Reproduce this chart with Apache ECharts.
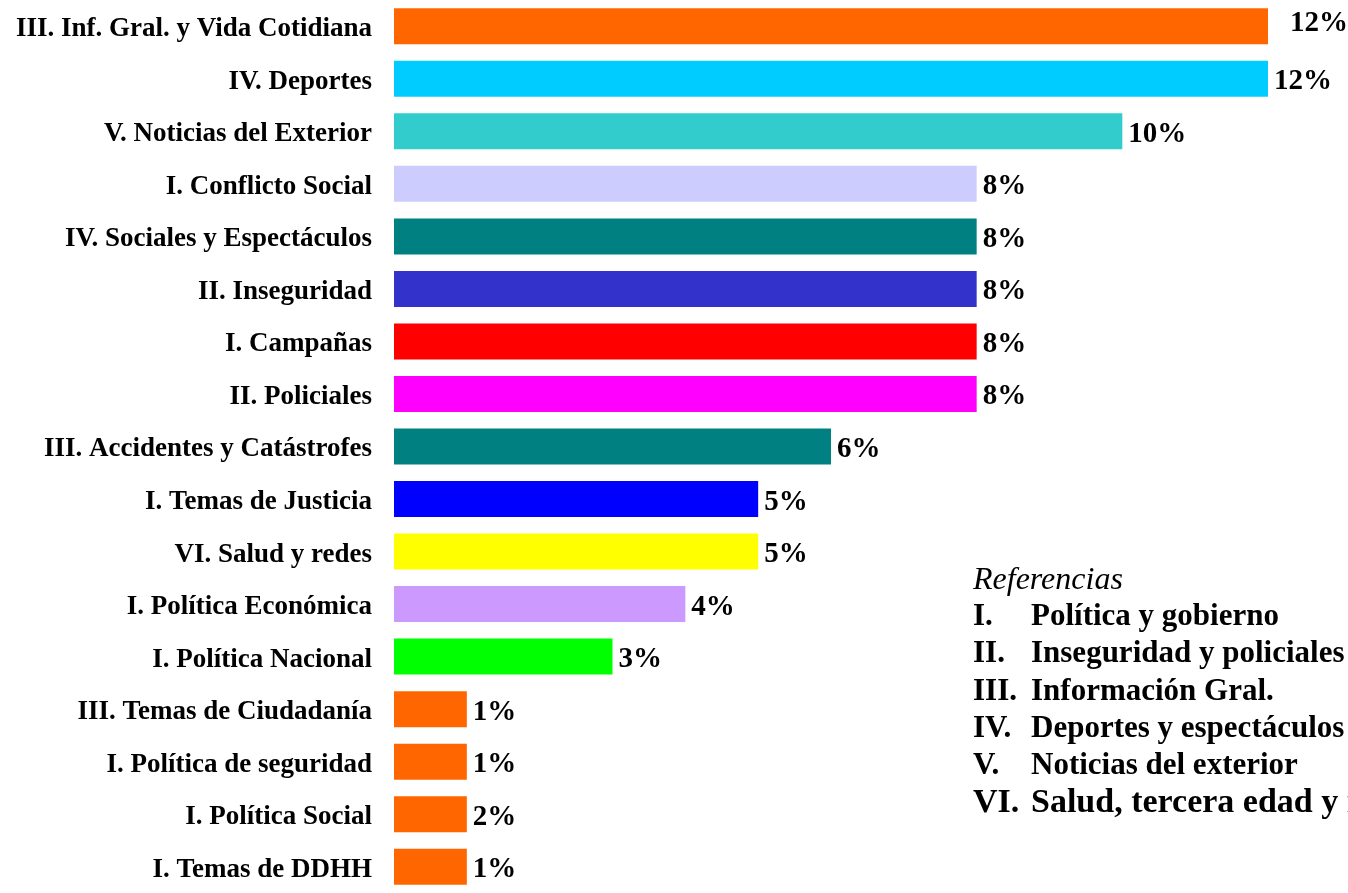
<!DOCTYPE html>
<html>
<head>
<meta charset="utf-8">
<script src="https://cdn.jsdelivr.net/npm/echarts@6/dist/echarts.min.js"></script>
<style>
  html, body { margin: 0; padding: 0; background: #ffffff; }
  #chart { width: 1348px; height: 893px; }
</style>
</head>
<body>
<div id="chart"></div>
<script>
// categorías (de arriba hacia abajo)
const categories = [
  'III. Inf. Gral. y Vida Cotidiana',
  'IV. Deportes',
  'V. Noticias del Exterior',
  'I. Conflicto Social',
  'IV. Sociales y Espectáculos',
  'II. Inseguridad',
  'I. Campañas',
  'II. Policiales',
  'III. Accidentes y Catástrofes',
  'I. Temas de Justicia',
  'VI. Salud y redes',
  'I. Política Económica',
  'I. Política Nacional',
  'III. Temas de Ciudadanía',
  'I. Política de seguridad',
  'I. Política Social',
  'I. Temas de DDHH'
]
// porcentajes (largo de barra)
const values = [12, 12, 10, 8, 8, 8, 8, 8, 6, 5, 5, 4, 3, 1, 1, 1, 1]
// etiquetas tal como aparecen
const valueLabels = ['12%', '12%', '10%', '8%', '8%', '8%', '8%', '8%', '6%', '5%', '5%', '4%', '3%', '1%', '1%', '2%', '1%']
const barColors = [
  '#FF6600', '#00CCFF', '#33CCCC', '#CCCCFF', '#008080', '#3333CC', '#FF0000',
  '#FF00FF', '#008080', '#0000FF', '#FFFF00', '#CC99FF', '#00FF00',
  '#FF6600', '#FF6600', '#FF6600', '#FF6600'
]
// referencias
const refNumerals = ['I.', 'II.', 'III.', 'IV.', 'V.', 'VI.']
const refTexts = [
  'Política y gobierno',
  'Inseguridad y policiales',
  'Información Gral.',
  'Deportes y espectáculos',
  'Noticias del exterior',
  'Salud, tercera edad y redes'
]

const FONT = "'Liberation Serif', 'Times New Roman', serif"

const chart = echarts.init(document.getElementById('chart'))

// bloque de referencias (texto a la derecha)
const refGraphics = [{
  type: 'text',
  x: 973,
  y: 581,
  style: { text: 'Referencias', font: 'italic 32px ' + FONT, fill: '#000', verticalAlign: 'middle' }
}]
refNumerals.forEach((n, i) => {
  const size = i === 5 ? 34 : 31
  const y = 617 + i * 37.3
  refGraphics.push({
    type: 'text', x: 973, y: y,
    style: { text: n, font: 'bold ' + size + 'px ' + FONT, fill: '#000', verticalAlign: 'middle' }
  })
  refGraphics.push({
    type: 'text', x: 1031, y: y,
    style: { text: refTexts[i], font: 'bold ' + size + 'px ' + FONT, fill: '#000', verticalAlign: 'middle' }
  })
})

const option = {
  animation: false,
  grid: { left: 394, top: 0, width: 874, height: 906, containLabel: false },
  xAxis: {
    type: 'value', min: 0, max: 12, show: false
  },
  yAxis: {
    type: 'category',
    data: categories,
    inverse: true,
    axisLine: { show: false },
    axisTick: { show: false },
    axisLabel: {
      margin: 22,
      formatter: v => '{c|' + v + '}',
      rich: {
        c: {
          color: '#000',
          fontFamily: FONT,
          fontWeight: 'bold',
          fontSize: 27,
          padding: [6, 0, 0, 0]
        }
      }
    }
  },
  series: [{
    type: 'bar',
    barWidth: 36,
    data: values.map((v, i) => ({
      value: v,
      itemStyle: { color: barColors[i] },
      label: i === 0 ? { offset: [16, -3] } : undefined
    })),
    label: {
      show: true,
      position: 'right',
      distance: 6,
      offset: [0, 3],
      color: '#000',
      fontFamily: FONT,
      fontWeight: 'bold',
      fontSize: 29,
      formatter: p => valueLabels[p.dataIndex]
    }
  }],
  graphic: refGraphics
}

chart.setOption(option)
</script>
</body>
</html>
